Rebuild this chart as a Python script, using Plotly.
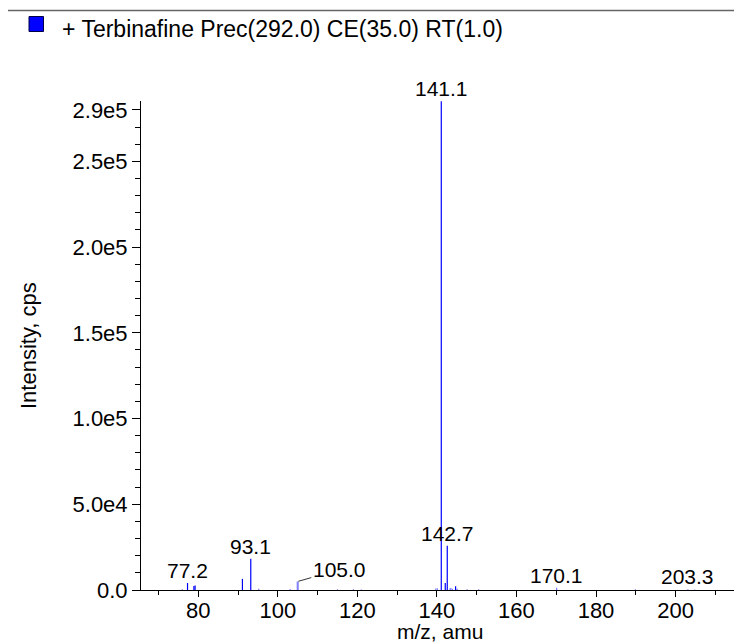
import plotly.graph_objects as go

# Strong (dark blue) centroid peaks
mz_strong = [77.3, 78.9, 79.2, 91.1, 93.2, 141.1, 142.1, 142.6, 144.7]
int_strong = [4100, 2300, 2600, 6500, 18200, 285000, 4100, 25800, 2200]

# Faint (light blue) peaks
mz_faint = [76.0, 95.2, 103.1, 104.9, 105.1, 115.0, 119.0, 121.0, 139.7, 140.1,
            143.3, 143.5, 143.9, 145.1, 147.6, 150.5, 170.1, 189.9, 203.1, 204.8]
int_faint = [500, 800, 600, 4900, 4600, 400, 500, 300, 900, 1000,
             1000, 1100, 700, 700, 500, 400, 1300, 500, 500, 300]

# Peak labels
label_mz = [77.3, 93.2, 141.1, 142.6, 170.1, 203.1]
label_int = [4100, 18200, 285000, 25800, 1300, 500]
label_text = ["77.2", "93.1", "141.1", "142.7", "170.1", "203.3"]
lead_mz, lead_int, lead_text = 104.9, 4900, "105.0"

title_text = "+ Terbinafine Prec(292.0) CE(35.0) RT(1.0)"

x_range = [65.6, 215.2]
y_range = [0, 285200]
x_ticks = [80, 100, 120, 140, 160, 180, 200]
y_tickvals = [0, 50000, 100000, 150000, 200000, 250000, 280000]
y_ticktext = ["0.0", "5.0e4", "1.0e5", "1.5e5", "2.0e5", "2.5e5", "2.9e5"]


def sticks(xs, ys):
    px, py = [], []
    for a, b in zip(xs, ys):
        px += [a, a, None]
        py += [0, b, None]
    return px, py


FONT = "Liberation Sans, Arial, Helvetica, sans-serif"
W, H = 742, 644
L, R, T, B = 133, 14, 93, 62
PW, PH = W - L - R, H - T - B


def px_x(p):
    return (p - L) / PW


def px_y(p):
    return (H - B - p) / PH


fig = go.Figure()
fx, fy = sticks(mz_faint, int_faint)
fig.add_trace(go.Scatter(x=fx, y=fy, mode="lines",
                         line=dict(color="#7a7aff", width=1.2),
                         hoverinfo="skip", showlegend=False))
sx, sy = sticks(mz_strong, int_strong)
fig.add_trace(go.Scatter(x=sx, y=sy, mode="lines",
                         line=dict(color="#0000ff", width=1.2),
                         hoverinfo="skip", showlegend=False))

annotations = []
for xv, yv, t in zip(label_mz, label_int, label_text):
    annotations.append(dict(x=xv, y=yv, xref="x", yref="y", text=t,
                            showarrow=False, yanchor="bottom", yshift=-1,
                            font=dict(size=21, color="black", family=FONT)))
annotations.append(dict(x=lead_mz, y=lead_int, xref="x", yref="y", text=lead_text,
                        showarrow=True, arrowhead=0, arrowwidth=0.8,
                        arrowcolor="black", ax=42, ay=-12, standoff=1,
                        font=dict(size=21, color="black", family=FONT)))
# chart title
annotations.append(dict(x=px_x(52), y=px_y(21), xref="paper", yref="paper",
                        text=title_text, showarrow=False, xanchor="left",
                        yanchor="middle",
                        font=dict(size=23, color="black", family=FONT)))
# axis titles
annotations.append(dict(x=px_x(432), y=px_y(636), xref="paper", yref="paper",
                        text="m/z, amu", showarrow=False, xanchor="center",
                        yanchor="bottom", borderpad=0,
                        font=dict(size=21, color="black", family=FONT)))
annotations.append(dict(x=px_x(20), y=px_y(338), xref="paper", yref="paper",
                        text="Intensity, cps", showarrow=False, textangle=-90,
                        xanchor="center", yanchor="middle",
                        font=dict(size=22, color="black", family=FONT)))

fig.update_layout(
    width=W, height=H,
    margin=dict(l=L, r=R, t=T, b=B, autoexpand=False),
    paper_bgcolor="white", plot_bgcolor="white",
    font=dict(family=FONT, color="black", size=22),
    xaxis=dict(range=x_range, tickvals=x_ticks, ticks="outside", ticklen=6,
               tickcolor="black", showline=True, linecolor="black", linewidth=1,
               showgrid=False, zeroline=False, automargin=False,
               tickfont=dict(size=22), ticklabelstandoff=-5,
               minor=dict(dtick=10, ticks="outside", ticklen=4, tickcolor="black")),
    yaxis=dict(range=y_range, tickvals=y_tickvals, ticktext=y_ticktext,
               ticks="outside", ticklen=8, tickcolor="black", showline=True,
               linecolor="black", linewidth=1, showgrid=False, zeroline=False,
               automargin=False, tickfont=dict(size=22),
               minor=dict(tickvals=[v * 10000 for v in range(1, 29)],
                          ticks="outside", ticklen=5, tickcolor="black")),
    annotations=annotations,
)

# decorations
fig.add_shape(type="line", xref="paper", yref="paper",
              x0=px_x(0), x1=px_x(W), y0=px_y(2.5), y1=px_y(2.5),
              line=dict(color="#666666", width=1.5))
fig.add_shape(type="rect", xref="paper", yref="paper",
              x0=px_x(21), x1=px_x(35.5), y0=px_y(23.5), y1=px_y(8.5),
              fillcolor="#0000ff", line=dict(color="#000044", width=1))
fig.add_shape(type="rect", xref="paper", yref="paper",
              x0=px_x(21), x1=px_x(36), y0=px_y(652), y1=px_y(642.5),
              fillcolor="#dddddd", line=dict(color="#999999", width=1))
fig.add_shape(type="path", xref="x", yref="y", xsizemode="pixel",
              ysizemode="pixel", xanchor=x_range[0], yanchor=0,
              path="M-9,9 L0,0 L-9,-9 Z", fillcolor="#0000ff",
              line=dict(color="#0000aa", width=1))

fig.write_html("out.html")
